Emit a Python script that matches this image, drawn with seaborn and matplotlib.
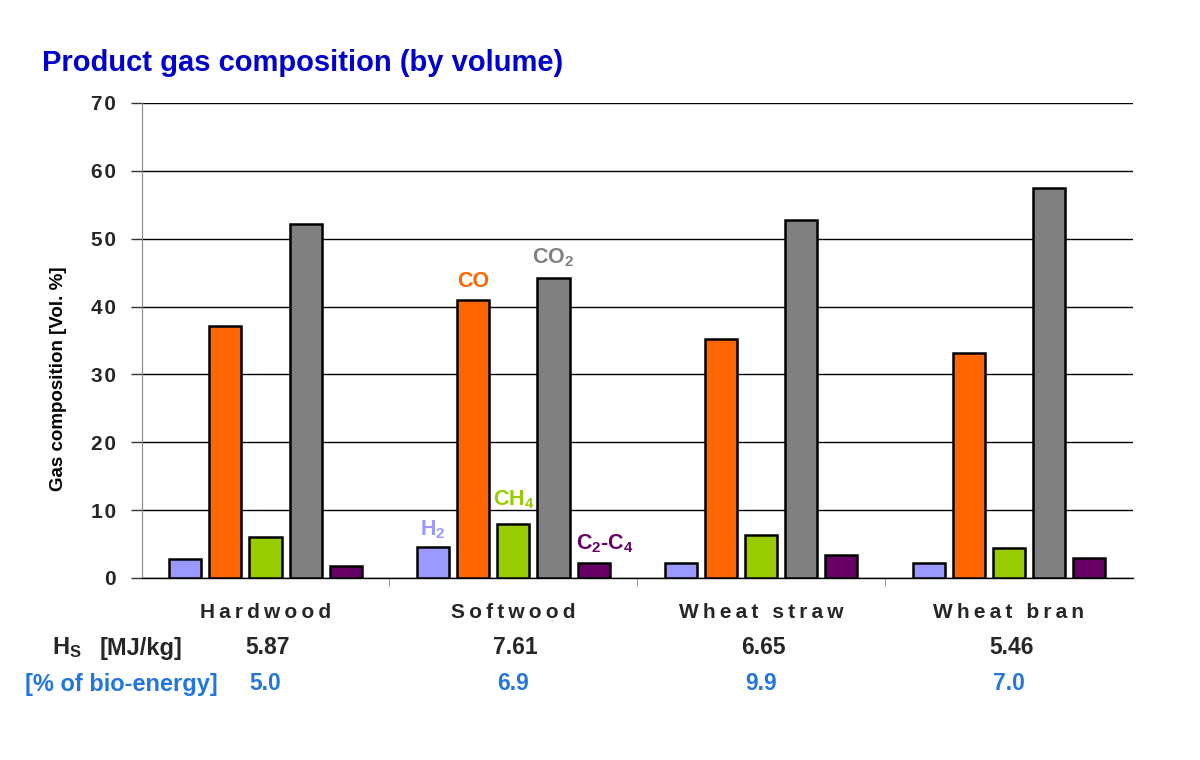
import matplotlib
matplotlib.use("Agg")
import matplotlib.pyplot as plt
import matplotlib.transforms as mtransforms
import seaborn as sns
import pandas as pd

categories = ["Hardwood", "Softwood", "Wheat straw", "Wheat bran"]
gases = ["H2", "CO", "CH4", "CO2", "C2-C4"]
h2 = [2.8, 4.6, 2.2, 2.2]
co = [37.1, 40.9, 35.2, 33.1]
ch4 = [6.0, 8.0, 6.3, 4.4]
co2 = [52.1, 44.2, 52.7, 57.4]
c2c4 = [1.8, 2.2, 3.4, 2.9]
y_ticks = [0, 10, 20, 30, 40, 50, 60, 70]
hs_values = ["5.87", "7.61", "6.65", "5.46"]
bio_energy = ["5.0", "6.9", "9.9", "7.0"]
colors = ["#9999FF", "#FF6600", "#99CC00", "#808080", "#660066"]

rows = []
for gas, vals in zip(gases, [h2, co, ch4, co2, c2c4]):
    for cat, v in zip(categories, vals):
        rows.append({"Feedstock": cat, "Gas": gas, "Value": v})
df = pd.DataFrame(rows)

sns.set_style("white")
plt.rcParams["font.family"] = ["Liberation Sans", "DejaVu Sans"]
plt.rcParams["mathtext.fontset"] = "custom"
plt.rcParams["mathtext.rm"] = "Liberation Sans:bold"
plt.rcParams["mathtext.it"] = "Liberation Sans:bold"
plt.rcParams["mathtext.bf"] = "Liberation Sans:bold"

fig = plt.figure(figsize=(12, 7.6), dpi=100)
ax = fig.add_axes([0.118, 0.2395, 0.826, 0.625])

sns.barplot(data=df, x="Feedstock", y="Value", hue="Gas", order=categories,
            hue_order=gases, palette=colors, saturation=1, width=0.81, gap=0.2,
            edgecolor="black", linewidth=1.8, ax=ax, legend=False, zorder=3)

ax.set_ylim(0, 70)
ax.set_xlim(-0.5, 3.5)
ax.set_yticks(y_ticks)
ax.set_yticklabels(["\u200a".join(str(t)) for t in y_ticks])
ax.yaxis.grid(True, color="black", linewidth=1.0, zorder=0)
ax.set_axisbelow(True)
for s in ["top", "right"]:
    ax.spines[s].set_visible(False)
ax.spines["left"].set_color("#888888")
ax.spines["bottom"].set_color("black")
ax.spines["bottom"].set_linewidth(1.0)
ax.tick_params(axis="y", which="major", left=False, labelsize=15, pad=15)
for lbl in ax.get_yticklabels():
    lbl.set_fontweight("bold")
# outward tick marks at each y tick
ytrans = mtransforms.blended_transform_factory(ax.transAxes, ax.transData)
ax.hlines(y_ticks, -0.011, 0, transform=ytrans, colors="#333333", linewidth=1.0, clip_on=False)

ax.set_xticks([])
ax.set_xticks([0.5, 1.5, 2.5], minor=True)
ax.tick_params(axis="x", which="minor", bottom=True, length=6, color="#888888", direction="out")
ax.set_xlabel("")
ax.set_ylabel("Gas composition [Vol. %]", fontsize=13.5, fontweight="bold", color="black")
ax.yaxis.set_label_coords(-0.075, 0.42)

trans = mtransforms.blended_transform_factory(ax.transData, fig.transFigure)
for i, cat in enumerate(categories):
    spaced = "\u2009".join(cat)
    ax.text(i, 1 - 612 / 760, spaced, transform=trans, ha="center", va="center",
            fontsize=15, fontweight="bold")
    ax.text(i + 0.01, 1 - 648 / 760, hs_values[i], transform=trans, ha="center", va="center",
            fontsize=16.5, fontweight="bold")
    ax.text(i, 1 - 684 / 760, bio_energy[i], transform=trans, ha="center", va="center",
            fontsize=16.5, fontweight="bold", color="#2277DD")

fig.text(52 / 1200, 1 - 648 / 760, r"H$_\mathrm{S}$", ha="left", va="center",
         fontsize=17, fontweight="bold")
fig.text(100 / 1200, 1 - 648 / 760, "[MJ/kg]", ha="left", va="center",
         fontsize=17, fontweight="bold")
fig.text(25 / 1200, 1 - 684 / 760, "[% of bio-energy]", ha="left", va="center",
         fontsize=17, fontweight="bold", color="#2277DD")

fig.text(42 / 1200, 1 - 63 / 760, "Product gas composition (by volume)", ha="left", va="center",
         fontsize=21, fontweight="bold", color="#0000CC")

# gas labels for the Softwood group
slot = 0.81 / 5
for j, (name, col, dy) in enumerate([(r"H$_2$", colors[0], 2.5), ("CO", colors[1], 2.8),
                                      (r"CH$_4$", colors[2], 3.5), (r"CO$_2$", colors[3], 3.0),
                                      (r"C$_2$-C$_4$", colors[4], 2.8)]):
    vals = [h2, co, ch4, co2, c2c4][j]
    x = 1 - 0.405 + slot * (j + 0.5)
    if j == 4:
        x += 0.045
    ax.text(x, vals[1] + dy, name, ha="center", va="center", fontsize=15.5,
            fontweight="bold", color=col, zorder=5)

fig.savefig("out.png", dpi=100)
